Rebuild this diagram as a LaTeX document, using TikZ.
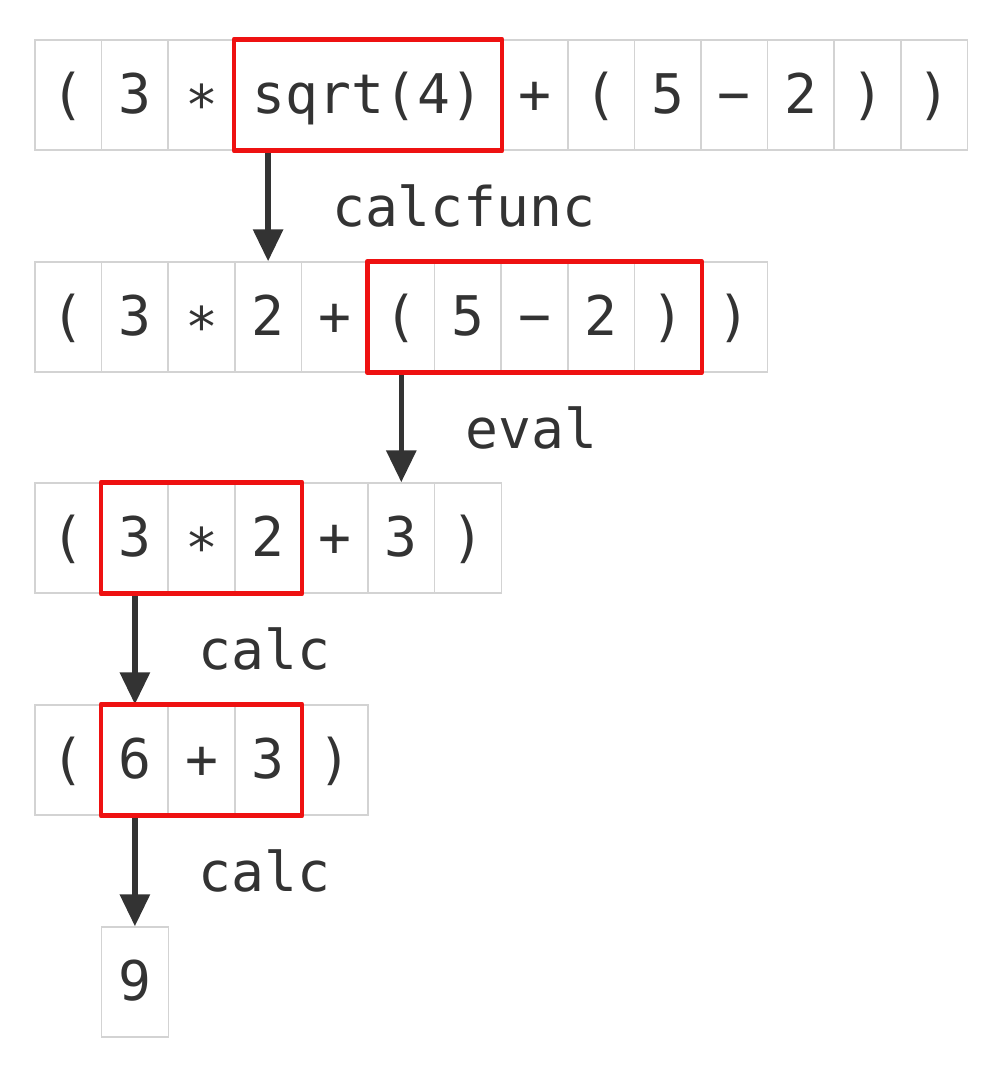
\documentclass[tikz,border=0pt]{standalone}
\usepackage{fontspec}
\setmonofont{DejaVu Sans Mono}
\usetikzlibrary{arrows.meta,positioning}
\definecolor{ink}{HTML}{333333}
\definecolor{grid}{HTML}{D3D3D3}
\definecolor{mark}{HTML}{EE1111}
\def\lp{(}
\def\rp{)}
\tikzset{
  cell/.style={draw=grid, line width=1.1pt, minimum width=50pt, minimum height=82.5pt,
    inner sep=0pt, text height=29pt, text depth=1pt, text=ink,
    font=\ttfamily\fontsize{41}{49}\selectfont},
  hit/.style={draw=mark, line width=3.4pt, line join=round},
  flow/.style={draw=ink, line width=4pt, -{Triangle[length=24pt,width=22pt]}},
  lbl/.style={anchor=west, inner sep=0pt, xshift=46pt, text=ink,
    font=\ttfamily\fontsize{41}{49}\selectfont}
}
\begin{document}
\begin{tikzpicture}[x=0.75pt,y=-0.75pt]
\useasboundingbox (0,0) rectangle (1000,1074);
% ( 3 * sqrt(4) + ( 5 - 2 ) )
\foreach \s [count=\i] in {\lp,3,∗}
  \node[cell] (a\i) at ({35+66.6*(\i-0.5)},95) {\s};
\node[cell, minimum width=200pt] (a4) at ({35+66.6*5},95) {sqrt(4)};
\foreach \s [count=\i from 8] in {+,\lp,5,−,2,\rp,\rp}
  \node[cell] (a\i) at ({35+66.6*(\i-0.5)},95) {\s};
% ( 3 * 2 + ( 5 - 2 ) )
\foreach \s [count=\i] in {\lp,3,∗,2,+,\lp,5,−,2,\rp,\rp}
  \node[cell] (b\i) at ({35+66.6*(\i-0.5)},317) {\s};
% ( 3 * 2 + 3 )
\foreach \s [count=\i] in {\lp,3,∗,2,+,3,\rp}
  \node[cell] (c\i) at ({35+66.6*(\i-0.5)},538) {\s};
% ( 6 + 3 )
\foreach \s [count=\i] in {\lp,6,+,3,\rp}
  \node[cell] (d\i) at ({35+66.6*(\i-0.5)},760) {\s};
\node[cell] (e1) at ({35+66.6*1.5},982) {9};
% steps
\draw[flow] (a4.south -| b4) -- node[lbl] (l1) {calcfunc} (b4.north);
\draw[flow] (b6.south) -- node[lbl] (l2) {eval} (c6.north);
\draw[flow] (c2.south) -- node[lbl] (l3) {calc} (d2.north);
\draw[flow] (d2.south) -- node[lbl] (l4) {calc} (e1.north);
% what gets reduced
\draw[hit] (a4.north west) rectangle (a4.south east);
\draw[hit] (b6.north west) rectangle (b10.south east);
\draw[hit] (c2.north west) rectangle (c4.south east);
\draw[hit] (d2.north west) rectangle (d4.south east);
\end{tikzpicture}
\end{document}
